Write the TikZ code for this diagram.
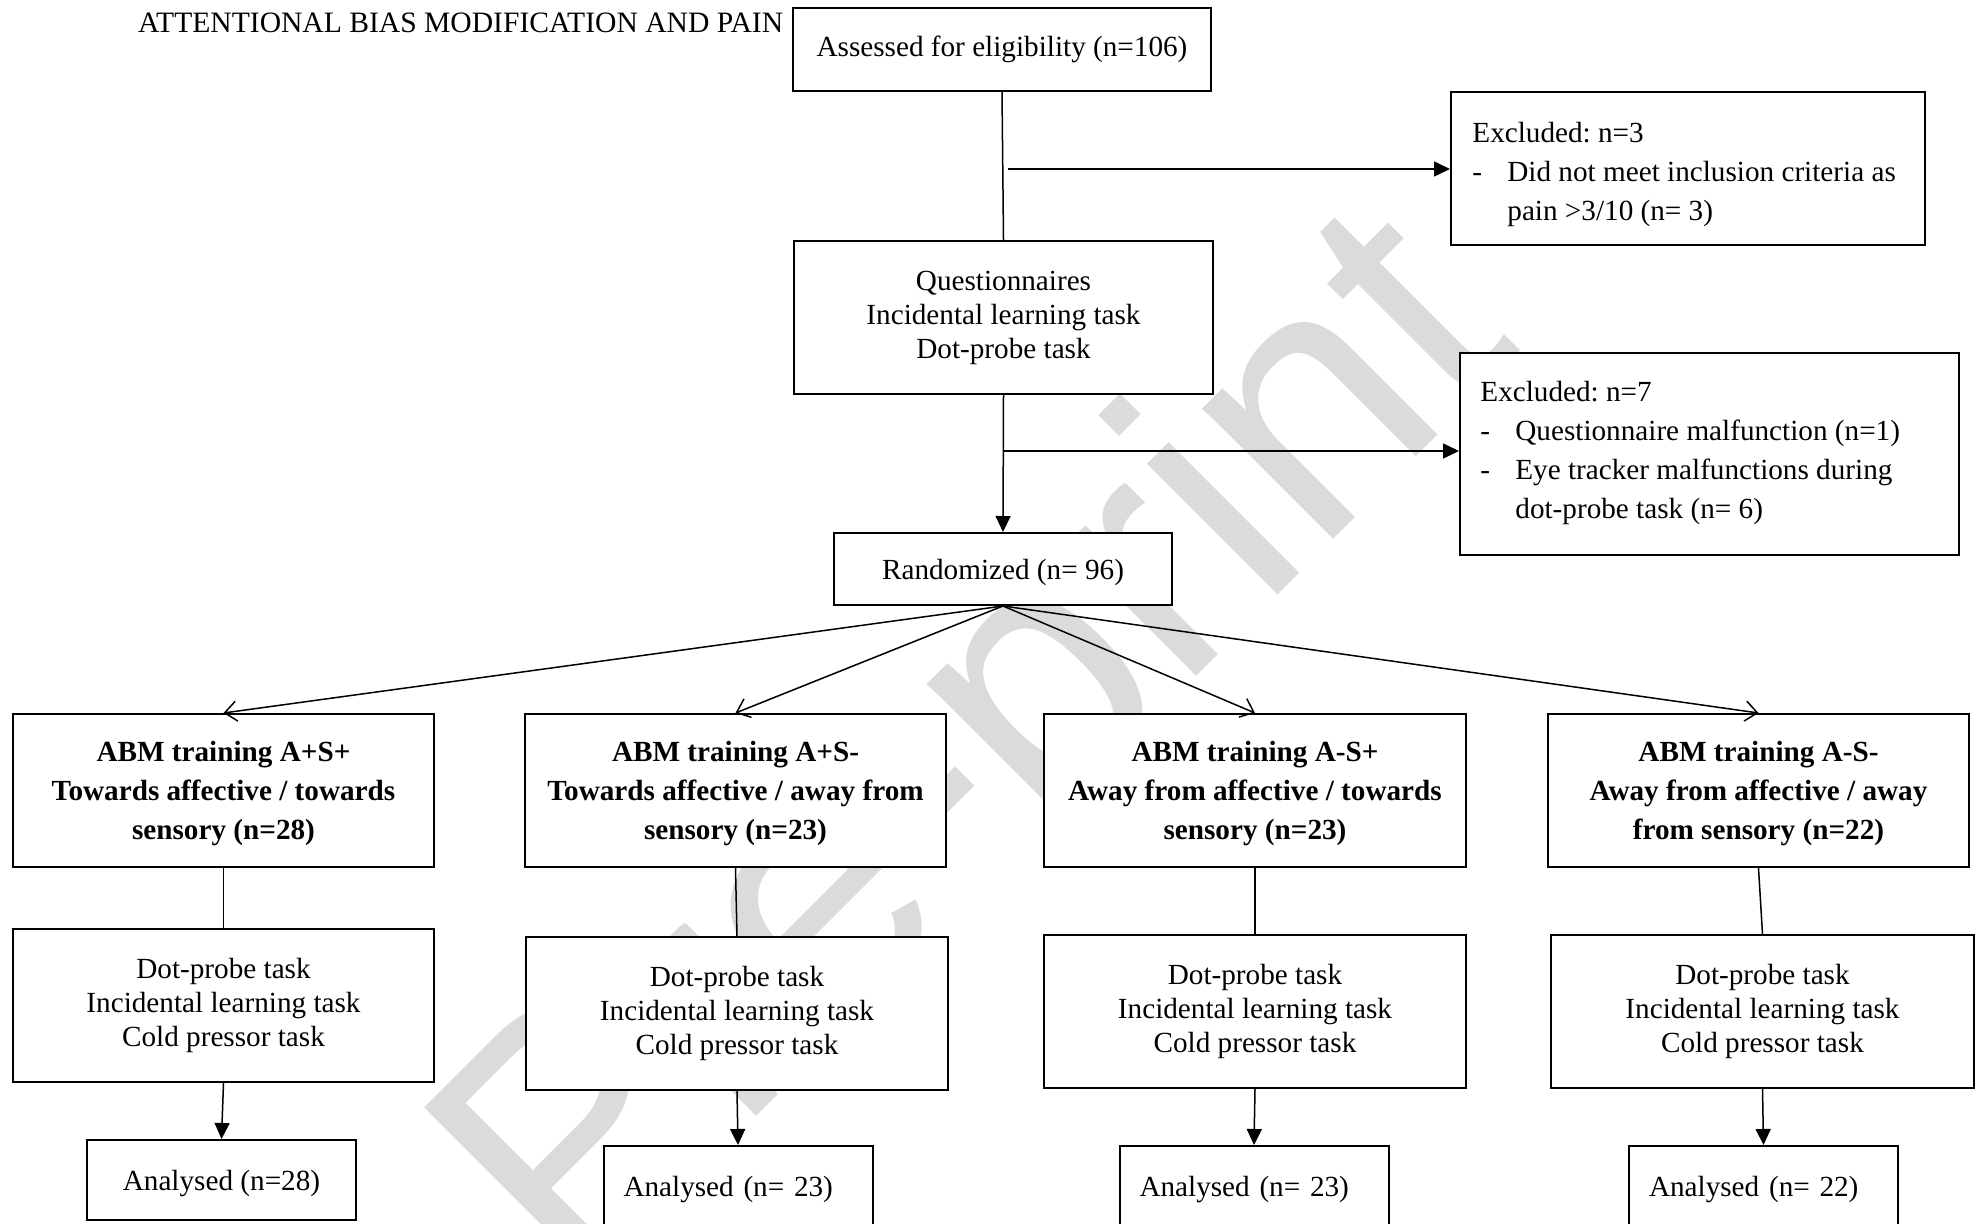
\documentclass[tikz,border=0pt]{standalone}
\usepackage{fontspec}
\setmainfont{Liberation Serif}
\newfontfamily\wmfont{Liberation Sans}
\usepackage{tikz}
\usetikzlibrary{arrows.meta}

\tikzset{
  box/.style={draw, line width=1pt, fill=white, inner sep=0pt, align=center,
    font=\fontsize{14.6}{17}\selectfont},
  abmbox/.style={box, text depth=0pt, font=\fontsize{14.6}{19.5}\selectfont\bfseries},
  excltext/.style={anchor=west, inner sep=0pt, align=left,
    font=\fontsize{14.6}{19.5}\selectfont},
  anbox/.style={box, text depth=0pt, minimum width=134.5pt, minimum height=40pt},
  conn/.style={line width=0.75pt},
  arrow/.style={conn, -{Triangle[length=8pt,width=7.5pt]}},
  branch/.style={conn, -{Straight Barb[length=6pt,width=10pt]}},
  wm/.style={text=black!14, font=\wmfont\fontsize{175}{175}\selectfont}
}
\newcommand{\dashitem}{\makebox[17.5pt][l]{-}}

\begin{document}
\frenchspacing
\begin{tikzpicture}[x=0.5pt,y=-0.5pt]
  \useasboundingbox (0,0) rectangle (1982,1224);

  % watermark
  \node[wm, anchor=base east, rotate=45] (wmark) at (1528,345) {Pre-print};

  % header
  \node[anchor=west, font=\fontsize{14.8}{17}\selectfont] (title) at (131,23)
    {ATTENTIONAL BIAS MODIFICATION AND PAIN};

  % top part
  \node[box, minimum width=209pt, minimum height=41.5pt] (assess) at (1002,49.5)
    {Assessed for eligibility (n=106)};
  \node[box, minimum width=209.5pt, minimum height=76.5pt] (quest) at (1003.5,317.5)
    {Questionnaires\\Incidental learning task\\Dot-probe task};
  \node[box, text depth=0pt, minimum width=169pt, minimum height=36pt] (rand) at (1003,569)
    {Randomized (n= 96)};

  % excluded
  \node[box, minimum width=237pt, minimum height=76.5pt] (excl1) at (1688,168.5) {};
  \node[excltext] (excl1txt) at ([xshift=11pt,yshift=-3pt]excl1.west)
    {Excluded: n=3\\
     \dashitem Did not meet inclusion criteria as\\
     \hspace*{17.5pt}pain >3/10 (n= 3)};
  \node[box, minimum width=249.5pt, minimum height=101pt] (excl2) at (1709.5,454) {};
  \node[excltext] (excl2txt) at ([xshift=10.5pt,yshift=0.4pt]excl2.west)
    {Excluded: n=7\\
     \dashitem Questionnaire malfunction (n=1)\\
     \dashitem Eye tracker malfunctions during\\
     \hspace*{17.5pt}dot-probe task (n= 6)};

  % training groups
  \node[abmbox, minimum width=210.5pt, minimum height=76.5pt] (abm1) at (223.5,790.5)
    {ABM training A+S+\\Towards affective / towards\\sensory (n=28)};
  \node[abmbox, minimum width=210.5pt, minimum height=76.5pt] (abm2) at (735.5,790.5)
    {ABM training A+S-\\Towards affective / away from\\sensory (n=23)};
  \node[abmbox, minimum width=211pt, minimum height=76.5pt] (abm3) at (1255,790.5)
    {ABM training A-S+\\Away from affective / towards\\sensory (n=23)};
  \node[abmbox, minimum width=210.5pt, minimum height=76.5pt] (abm4) at (1758.5,790.5)
    {ABM training A-S-\\Away from affective / away\\from sensory (n=22)};

  % tasks
  \node[box, minimum width=210.5pt, minimum height=76.5pt] (task1) at (223.5,1005.5)
    {Dot-probe task\\Incidental learning task\\Cold pressor task};
  \node[box, minimum width=211pt, minimum height=76.5pt] (task2) at (737,1013.5)
    {Dot-probe task\\Incidental learning task\\Cold pressor task};
  \node[box, minimum width=211pt, minimum height=76.5pt] (task3) at (1255,1011.5)
    {Dot-probe task\\Incidental learning task\\Cold pressor task};
  \node[box, minimum width=211.5pt, minimum height=76.5pt] (task4) at (1762.5,1011.5)
    {Dot-probe task\\Incidental learning task\\Cold pressor task};

  % analysed
  \node[anbox] (an1) at (221.5,1180) {Analysed (n=28)};
  \node[anbox, align=left, text width=114.5pt, inner xsep=10pt] (an2) at (738,1186)
    {Analysed (n= 23)};
  \node[anbox, align=left, text width=114.5pt, inner xsep=10pt] (an3) at (1254,1186)
    {Analysed (n= 23)};
  \node[anbox, align=left, text width=114.5pt, inner xsep=10pt] (an4) at (1763.5,1186)
    {Analysed (n= 22)};

  % connectors
  \draw[conn] (assess.south) -- (quest.north);
  \coordinate (ex1) at (1008,169);
  \draw[arrow] (ex1) -- (ex1 -| excl1.west);
  \draw[arrow] (quest.south) -- (rand.north);
  \coordinate (ex2) at (1003,451);
  \draw[arrow] (ex2) -- (ex2 -| excl2.west);

  \foreach \i in {1,...,4} {
    \draw[branch] (rand.south) -- (abm\i.north);
    \draw[conn] (abm\i.south) -- (task\i.north);
    \draw[arrow] (task\i.south) -- (an\i.north);
  }
\end{tikzpicture}
\end{document}
